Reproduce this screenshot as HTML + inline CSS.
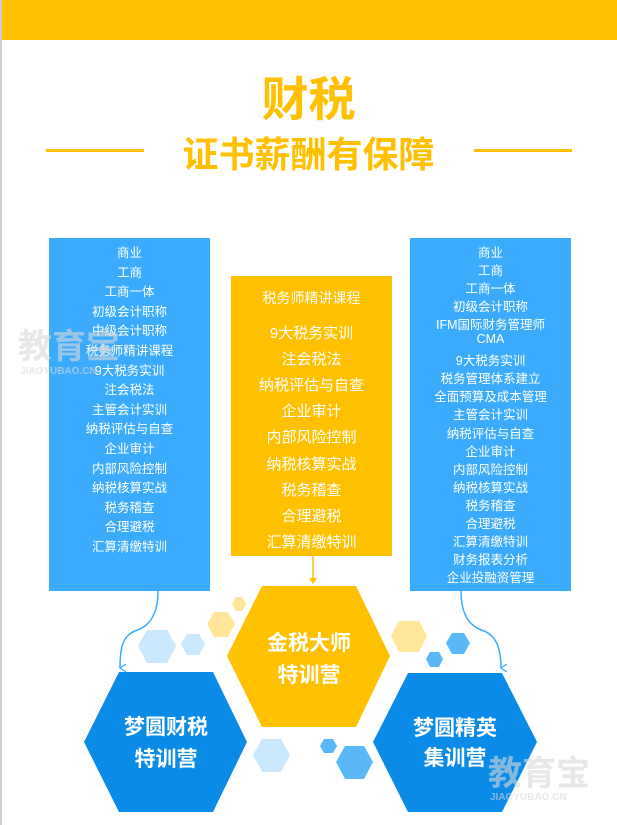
<!DOCTYPE html>
<html><head><meta charset="utf-8">
<style>
html,body{margin:0;padding:0;}
body{width:617px;height:825px;position:relative;background:#fff;overflow:hidden;font-family:"Liberation Sans","Noto Sans CJK SC",sans-serif;}
.a{position:absolute;}
.panel{position:absolute;background:#3BABFD;color:#fff;text-align:center;font-size:12.5px;}
.panel div{position:absolute;left:-20px;right:-20px;white-space:nowrap;}
.c{background:#FFC000;font-size:15px;}
.t{color:#FFC000;font-weight:bold;text-align:center;left:0;width:617px;}
</style></head><body>
<div class="a" style="left:0;top:0;width:2px;height:825px;background:#cfcfcf"></div>
<div class="a" style="left:2px;top:0;width:615px;height:40px;background:#FFC000"></div>
<div class="a t" style="top:72px;font-size:47px;line-height:56px;">财税</div>
<div class="a t" style="top:133px;font-size:36px;line-height:44px;">证书薪酬有保障</div>
<div class="a" style="left:46px;top:149px;width:98px;height:3px;background:#FFC000"></div>
<div class="a" style="left:474px;top:149px;width:98px;height:3px;background:#FFC000"></div>

<div class="panel" style="left:49px;top:238px;width:161px;height:353px;" id="L"></div>
<div class="panel" style="left:410px;top:238px;width:161px;height:353px;" id="R"></div>
<div class="panel c" style="left:231px;top:276px;width:161px;height:280px;" id="C"></div>

<svg class="a" style="left:0;top:0" width="617" height="825">
<defs><marker id="m" markerWidth="8" markerHeight="8" refX="4" refY="6" orient="auto" markerUnits="userSpaceOnUse"><path d="M0,0 L4,6 L8,0" fill="none" stroke="#3BABFD" stroke-width="1.3"/></marker></defs>
<path d="M313,556 L313,583" stroke="#FFC000" stroke-width="1.5" fill="none"/>
<path d="M309,578 L313,584 L317,578 Z" fill="#FFC000"/>
<path d="M158,591 C158,620 145,628 135,631 C122,636 120,650 120,668" stroke="#3BABFD" stroke-width="1.5" fill="none" marker-end="url(#m)"/>
<path d="M461,591 C461,620 474,628 484,631 C497,636 501,650 501,668" stroke="#3BABFD" stroke-width="1.5" fill="none" marker-end="url(#m)"/>
<g>
<polygon points="262,586 356,586 390,656 356,727 262,727 227,656" fill="#FFC000"/>
<polygon points="119,672 213,672 247,742 213,812 119,812 84,742" fill="#0A8BE7"/>
<polygon points="408,673 502,673 537,742 502,812 408,812 373,742" fill="#0A8BE7"/>
<polygon points="214,612 228,612 235,624 228,637 214,637 207,624" fill="#FFE699"/>
<polygon points="236,597 242,597 246,604 242,611 236,611 232,604" fill="#FFE699"/>
<polygon points="147,630 167,630 176,646 167,663 147,663 138,646" fill="#C9E7FD"/>
<polygon points="187,634 199,634 205,644 199,655 187,655 181,644" fill="#C9E7FD"/>
<polygon points="262,739 281,739 290,755 281,772 262,772 253,755" fill="#C9E7FD"/>
<polygon points="399,621 419,621 427,636 419,652 399,652 391,636" fill="#FFE699"/>
<polygon points="452,633 464,633 470,643 464,654 452,654 446,643" fill="#5BB8F8"/>
<polygon points="430,652 439,652 443,659 439,667 430,667 426,659" fill="#5BB8F8"/>
<polygon points="324,739 333,739 337,746 333,753 324,753 320,746" fill="#5BB8F8"/>
<polygon points="345,746 364,746 373,762 364,779 345,779 336,762" fill="#5BB8F8"/>
</g>
<g fill="#fff" font-weight="bold" font-size="21" text-anchor="middle" font-family="Liberation Sans,Noto Sans CJK SC,sans-serif">
<text x="309" y="650">金税大师</text><text x="309" y="682">特训营</text>
<text x="166" y="734">梦圆财税</text><text x="166" y="766">特训营</text>
<text x="455" y="735">梦圆精英</text><text x="455" y="765">集训营</text>
</g>
<g fill="#d9d9d9" opacity="0.6" font-family="Liberation Sans,Noto Sans CJK SC,sans-serif" font-weight="bold">
<text x="18" y="358" font-size="34">教育宝</text><text x="20" y="374" font-size="10">JIAOYUBAO.CN</text>
<text x="488" y="785" font-size="34">教育宝</text><text x="490" y="800" font-size="10">JIAOYUBAO.CN</text>
</g>
</svg>
<script>
function fill(id,items,start,step){var e=document.getElementById(id),h='';items.forEach(function(t,i){h+='<div style="top:'+(start+i*step-9)+'px;white-space:nowrap">'+t+'</div>';});e.innerHTML=h;}
fill('L',['商业','工商','工商一体','初级会计职称','中级会计职称','税务师精讲课程','9大税务实训','注会税法','主管会计实训','纳税评估与自查','企业审计','内部风险控制','纳税核算实战','税务稽查','合理避税','汇算清缴特训'],13,19.6);
fill('R',['商业','工商','工商一体','初级会计职称','IFM国际财务管理师','CMA','9大税务实训','税务管理体系建立','全面预算及成本管理','主管会计实训','纳税评估与自查','企业审计','内部风险控制','纳税核算实战','税务稽查','合理避税','汇算清缴特训','财务报表分析','企业投融资管理'],13,18.05);
var c=document.getElementById('C'),h='<div style="top:12px;font-size:14px">税务师精讲课程</div>';
['9大税务实训','注会税法','纳税评估与自查','企业审计','内部风险控制','纳税核算实战','税务稽查','合理避税','汇算清缴特训'].forEach(function(t,i){h+='<div style="top:'+(46+i*26.1)+'px">'+t+'</div>';});c.innerHTML=h;
</script>
</body></html>
